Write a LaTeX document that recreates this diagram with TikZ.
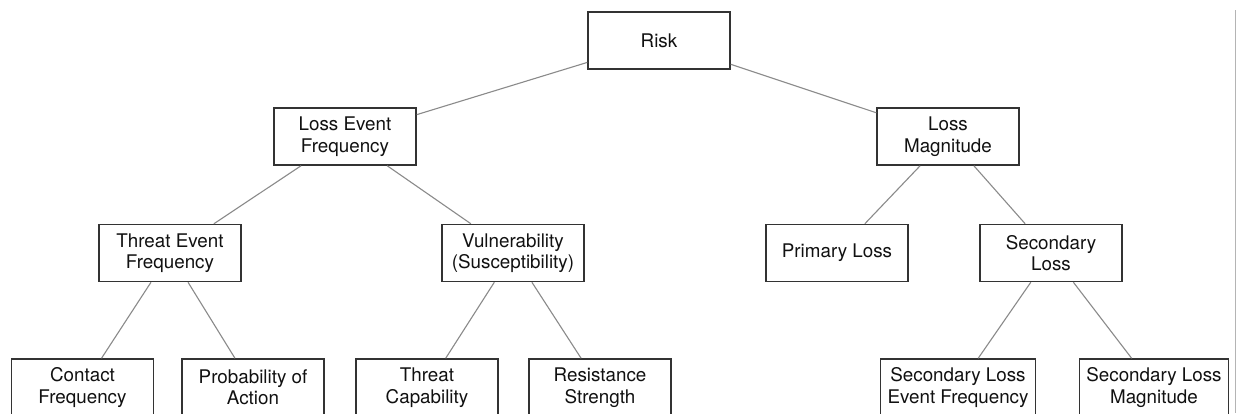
\documentclass[tikz,border=0pt]{standalone}
\usepackage{fontspec}
\setmainfont{TeX Gyre Heros}
\begin{document}
\begin{tikzpicture}[x=1pt,y=-1pt,
  box/.style={draw=boxline, line width=1.5pt, fill=white, rectangle,
    minimum width=142pt, minimum height=57pt, inner xsep=7pt,
    align=center, text=txt,
    font=\fontsize{18.8pt}{21.5pt}\selectfont},
  link/.style={draw=linkgray, line width=1.1pt}]
\definecolor{boxline}{HTML}{333333}
\definecolor{txt}{HTML}{111111}
\definecolor{linkgray}{HTML}{8A8A8A}
\definecolor{edge}{HTML}{B4B4B4}
\clip (0,0) rectangle (1236,413);
\fill[white] (0,0) rectangle (1236,413);

% level 0
\node[box] (risk) at (659,40.5) {Risk};
% level 1
\node[box] (lef) at (345,136.5) {Loss Event\\Frequency};
\node[box] (lm)  at (948,136.5) {Loss\\Magnitude};
% level 2
\node[box] (tef)  at (170,253) {Threat Event\\Frequency};
\node[box] (vuln) at (513,253) {Vulnerability\\(Susceptibility)};
\node[box] (pl)   at (837,253) {Primary Loss};
\node[box] (sl)   at (1051,253) {Secondary\\Loss};
% level 3
\node[box] (cf)   at (82.5,387.5) {Contact\\Frequency};
\node[box] (poa)  at (253,387.5) {Probability of\\Action};
\node[box] (tc)   at (427,387.5) {Threat\\Capability};
\node[box] (rs)   at (600,387.5) {Resistance\\Strength};
\node[box] (slef) at (958,387.5) {Secondary Loss\\Event Frequency};
\node[box] (slm)  at (1154,387.5) {Secondary Loss\\Magnitude};

% connectors
\draw[link] (risk) -- (lef);
\draw[link] (risk) -- (lm);
\draw[link] (lef) -- (tef);
\draw[link] (lef) -- (vuln);
\draw[link] (lm) -- (pl);
\draw[link] (lm) -- (sl);
\draw[link] (tef) -- (cf);
\draw[link] (tef) -- (poa);
\draw[link] (vuln) -- (tc);
\draw[link] (vuln) -- (rs);
\draw[link] (sl) -- (slef);
\draw[link] (sl) -- (slm);

% right-hand frame rule
\coordinate (ruletop) at (1235,10);
\coordinate (rulebot) at (1235,413);
\draw[edge, line width=1pt] (ruletop) -- (rulebot);
\end{tikzpicture}
\end{document}
